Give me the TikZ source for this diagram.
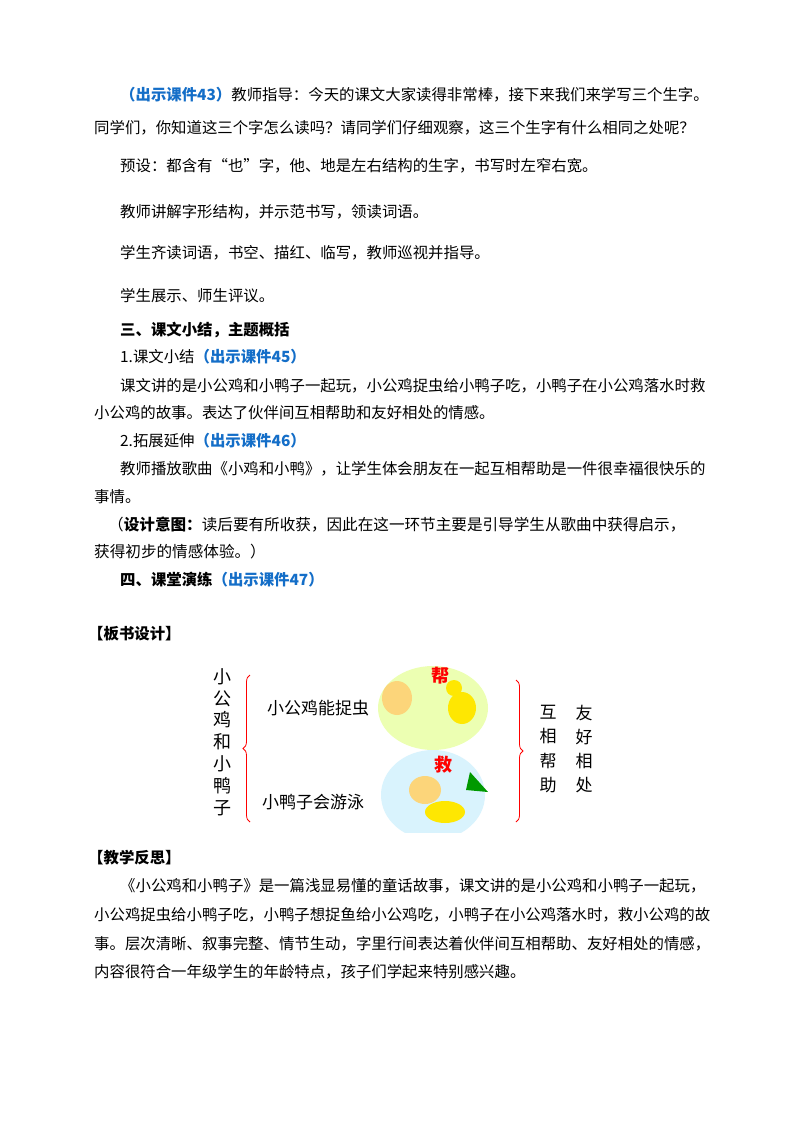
\documentclass[tikz,border=0pt]{standalone}
\usepackage{fontspec}
\setmainfont{Noto Sans CJK SC}
\usetikzlibrary{decorations.pathreplacing}
\definecolor{kjblue}{RGB}{20,110,200}
\begin{document}
\begin{tikzpicture}[x=1pt,y=-1pt,
  tl/.style={anchor=west,inner sep=0pt,font=\fontsize{15.4}{18}\selectfont},
  bl/.style={tl,font=\fontsize{15.4}{18}\selectfont\bfseries},
  bd/.style={anchor=center,inner sep=0pt,font=\fontsize{17}{20}\selectfont}]
\useasboundingbox (0,0) rectangle (800,1132);
\fill[white] (0,0) rectangle (800,1132);
\node[tl] (l1) at (120,95) {{\color{kjblue}\bfseries（出示课件43）}教师指导：今天的课文大家读得非常棒，接下来我们来学写三个生字。};
\node[tl] (l2) at (94,128) {同学们，你知道这三个字怎么读吗？请同学们仔细观察，这三个生字有什么相同之处呢？};
\node[tl] (l3) at (120,166) {预设：都含有“也”字，他、地是左右结构的生字，书写时左窄右宽。};
\node[tl] (l4) at (120,212) {教师讲解字形结构，并示范书写，领读词语。};
\node[tl] (l5) at (120,253) {学生齐读词语，书空、描红、临写，教师巡视并指导。};
\node[tl] (l6) at (120,296) {学生展示、师生评议。};
\node[bl] (l7) at (120,330) {三、课文小结，主题概括};
\node[tl] (l8) at (120,357) {1.课文小结{\color{kjblue}\bfseries（出示课件45）}};
\node[tl] (l9) at (120,386) {课文讲的是小公鸡和小鸭子一起玩，小公鸡捉虫给小鸭子吃，小鸭子在小公鸡落水时救};
\node[tl] (l10) at (94,413) {小公鸡的故事。表达了伙伴间互相帮助和友好相处的情感。};
\node[tl] (l11) at (120,441) {2.拓展延伸{\color{kjblue}\bfseries（出示课件46）}};
\node[tl] (l12) at (120,469) {教师播放歌曲《小鸡和小鸭》，让学生体会朋友在一起互相帮助是一件很幸福很快乐的};
\node[tl] (l13) at (94,497) {事情。};
\node[tl,font=\fontsize{15.6}{18}\selectfont] (l14) at (108,525) {（{\bfseries 设计意图：}读后要有所收获，因此在这一环节主要是引导学生从歌曲中获得启示，};
\node[tl,font=\fontsize{15.6}{18}\selectfont] (l15) at (94,552) {获得初步的情感体验。）};
\node[bl] (l16) at (120,580) {四、课堂演练{\color{kjblue}（出示课件47）}};
\node[bl] (h1) at (88,634) {【板书设计】};
% board
\node[bd,align=center,font=\fontsize{18}{21.8}\selectfont] (title) at (222,742) {小\\公\\鸡\\和\\小\\鸭\\子};
\draw[red,thick,decorate,decoration={brace,amplitude=7pt}] (250,822) -- (250,675);
\node[bd] (t1) at (318,708) {小公鸡能捉虫};
\node[bd] (t2) at (313,802) {小鸭子会游泳};
\fill[green!25!yellow!30] (433,708) ellipse [x radius=55,y radius=42];
\fill[yellow!40!orange!50] (397,698) ellipse [x radius=15,y radius=17];
\fill[yellow!90!orange] (462,708) ellipse [x radius=14,y radius=16];
\fill[yellow!90!orange] (454,688) circle (8);
\begin{scope}
\clip (378,750) rectangle (490,832);
\fill[cyan!15] (433,795) ellipse [x radius=52,y radius=45];
\fill[yellow!40!orange!50] (425,790) ellipse [x radius=16,y radius=14];
\fill[yellow!90!orange] (445,812) ellipse [x radius=20,y radius=11];
\fill[green!60!black] (470,772) -- (488,792) -- (466,790) -- cycle;
\end{scope}
\node[bd,text=red,font=\fontsize{18}{20}\selectfont\bfseries] (c1) at (440,676) {帮};
\node[bd,text=red,font=\fontsize{18}{20}\selectfont\bfseries] (c2) at (443,765) {救};
\draw[red,thick,decorate,decoration={brace,amplitude=7pt}] (516,680) -- (516,822);
\node[bd,align=center,font=\fontsize{17}{24.3}\selectfont] (r1) at (548,749) {互\\相\\帮\\助};
\node[bd,align=center,font=\fontsize{17}{24.3}\selectfont] (r2) at (584,749) {友\\好\\相\\处};
\node[bl] (h2) at (88,858) {【教学反思】};
\node[tl] (p1) at (120,886) {《小公鸡和小鸭子》是一篇浅显易懂的童话故事，课文讲的是小公鸡和小鸭子一起玩，};
\node[tl] (p2) at (94,915) {小公鸡捉虫给小鸭子吃，小鸭子想捉鱼给小公鸡吃，小鸭子在小公鸡落水时，救小公鸡的故};
\node[tl] (p3) at (94,944) {事。层次清晰、叙事完整、情节生动，字里行间表达着伙伴间互相帮助、友好相处的情感，};
\node[tl] (p4) at (94,972) {内容很符合一年级学生的年龄特点，孩子们学起来特别感兴趣。};
\end{tikzpicture}
\end{document}
